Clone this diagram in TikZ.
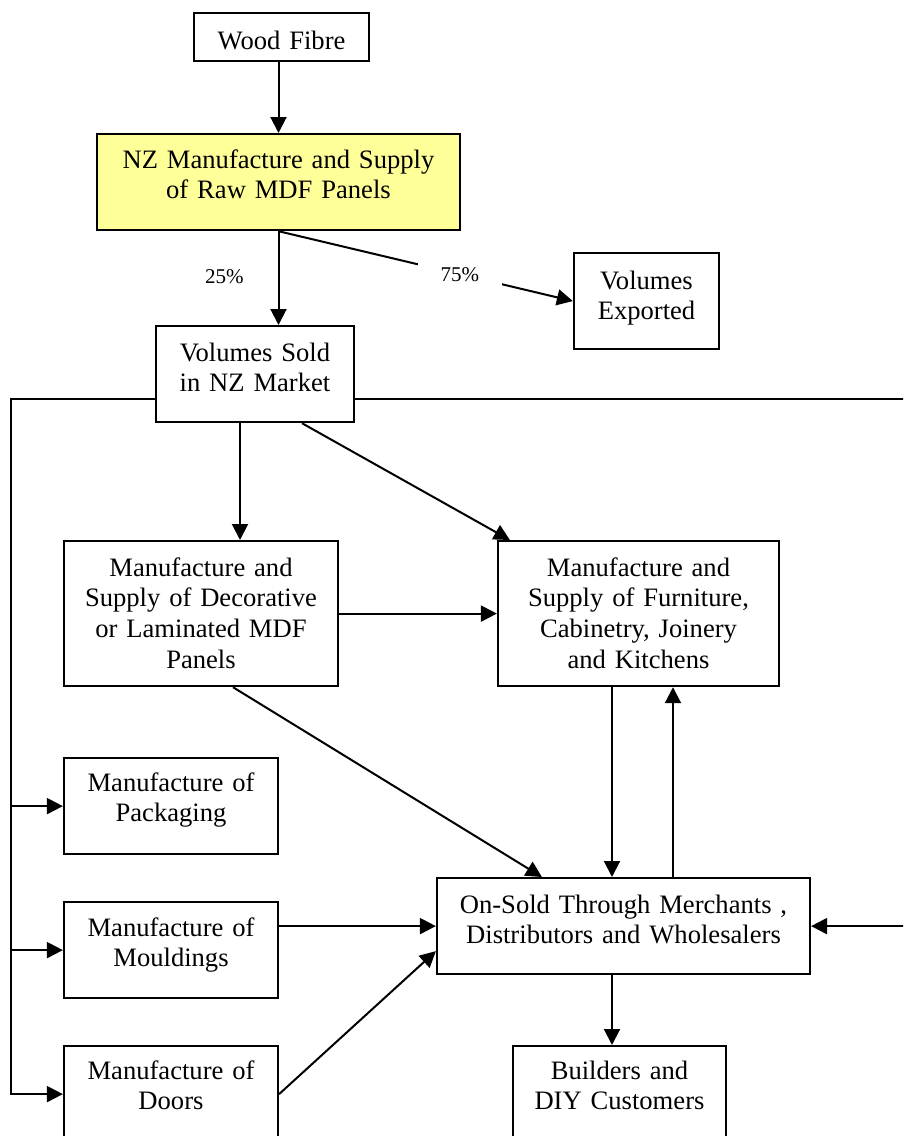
\documentclass[tikz,border=0pt]{standalone}
\usepackage{fontspec}
\setmainfont{Liberation Serif}
\usetikzlibrary{arrows.meta}
\definecolor{mdfyellow}{RGB}{255,255,153}

\begin{document}
\begin{tikzpicture}[x=1pt, y=-1pt,
        box/.style={draw, line width=2.2pt, fill=white, anchor=north, align=center,
            inner sep=0pt, font=\fontsize{26.6}{30.7}\selectfont, text height=34pt},
        flow/.style={line width=2pt, -{Triangle[length=16pt,width=16pt]}},
        pct/.style={font=\fontsize{21}{24}\selectfont, inner sep=0pt}]
        \clip (0,0) rectangle (903,1136);
        % boxes
        \node [box, text width=175pt, text height=36pt, text depth=12pt] (wood) at (281.5,12) {Wood Fibre};
        \node [box, fill=mdfyellow, text width=363pt, text depth=62pt] (nz) at (278.5,133) {NZ Manufacture and Supply\\of Raw MDF Panels};
        \node [box, text width=145pt, text height=36pt, text depth=60pt] (exported) at (646.5,252) {Volumes\\Exported};
        \node [box, text width=198pt, text height=35pt, text depth=61pt] (sold) at (255,325) {Volumes Sold\\in NZ Market};
        \node [box, text width=274pt, text height=35pt, text depth=110pt] (deco) at (201,540) {Manufacture and\\Supply of Decorative\\or Laminated MDF\\Panels};
        \node [box, text width=281pt, text height=35pt, text depth=110pt] (furn) at (638.5,540) {Manufacture and\\Supply of Furniture,\\Cabinetry, Joinery\\and Kitchens};
        \node [box, text width=214pt, text height=33pt, text depth=63pt] (pack) at (171,757) {Manufacture of\\Packaging};
        \node [box, text width=214pt, text depth=62pt] (mould) at (171,901) {Manufacture of\\Mouldings};
        \node [box, text width=214pt, text height=33pt, text depth=63pt] (doors) at (171,1045) {Manufacture of\\Doors};
        \node [box, text width=373pt, text height=35pt, text depth=61pt] (onsold) at (623.5,877) {On-Sold Through Merchants ,\\Distributors and Wholesalers};
        \node [box, text width=213pt, text height=33pt, text depth=63pt] (build) at (619.5,1045) {Builders and\\DIY Customers};
        % trunk lines
        \coordinate (ltrunk) at (11,397);
        \coordinate (rtrunk) at (910,397);
        % connectors
        \draw [flow] (wood.south -| nz.north) -- (nz.north);
        \draw [flow] (nz.south) -- (nz.south |- sold.north) node [pct, pos=0.48, left=34pt] (p25) {25\%};
        \draw [flow] (nz.south) -- node [pct, pos=0.616, fill=white, inner xsep=23pt, inner ysep=7pt] (p75) {75\%} (exported.west);
        \draw [flow] ([xshift=-15pt]sold.south) -- ([xshift=-15pt]sold.south |- deco.north);
        \draw [flow] ([xshift=47pt]sold.south) -- ([xshift=13pt]furn.north west);
        \draw [flow] (deco.east) -- (furn.west);
        \draw [flow] ([xshift=32pt]deco.south) -- ([xshift=106pt]onsold.north west);
        \draw [flow] ([xshift=-26.5pt]furn.south) -- ([xshift=-26.5pt]furn.south |- onsold.north);
        \draw [flow] ([xshift=34.5pt]furn.south |- onsold.north) -- ([xshift=34.5pt]furn.south);
        \draw [flow] ([yshift=24pt]sold.south west) -| (ltrunk |- doors.west) -- (doors.west);
        \draw [flow] (ltrunk |- pack.west) -- (pack.west);
        \draw [flow] (ltrunk |- mould.west) -- (mould.west);
        \draw [flow] ([yshift=24pt]sold.south east) -| (rtrunk |- onsold.east) -- (onsold.east);
        \draw [flow] ([yshift=24pt]mould.east) -- (onsold.west);
        \draw [flow] (doors.east) -- ([yshift=-25pt]onsold.west);
        \draw [flow] ([xshift=-11.5pt]onsold.south) -- ([xshift=-11.5pt]onsold.south |- build.north);
\end{tikzpicture}
\end{document}
